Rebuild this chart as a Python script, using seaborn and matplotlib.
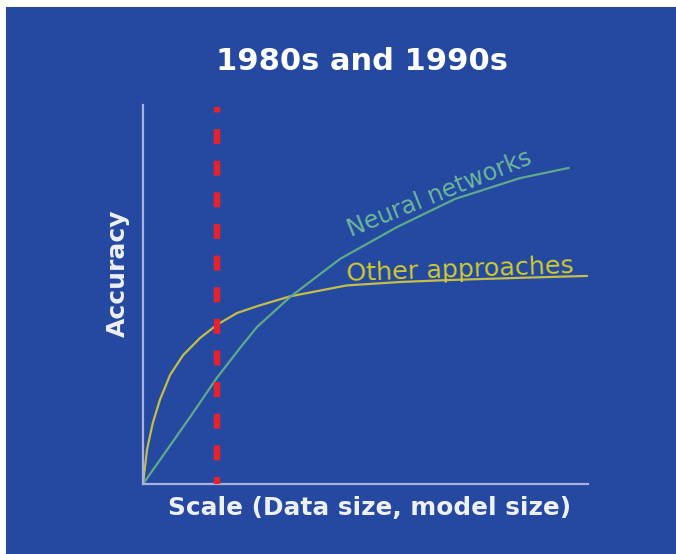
import matplotlib
matplotlib.use("Agg")
import matplotlib.pyplot as plt
import seaborn as sns
import pandas as pd
from matplotlib.patches import Rectangle

# ---- data (axis units: x 0..100, y 0..100) ----
nn_x = [0, 5.4, 10.6, 16.6, 21.8, 25.6, 33.0, 44.3, 57.1, 70.1, 84.7, 95.7]
nn_y = [0, 9.0, 17.7, 28.0, 35.9, 41.4, 49.3, 59.4, 67.8, 75.2, 80.7, 83.4]
oa_x = [0, 0.9, 1.6, 2.2, 3.8, 6.1, 9.0, 12.8, 16.6, 21.1, 25.6, 33.0, 45.8, 57.8, 68.3, 84.7, 99.8]
oa_y = [0, 9.0, 12.9, 16.1, 22.2, 28.8, 34.0, 38.5, 42.0, 45.1, 46.9, 49.5, 52.4, 53.3, 53.8, 54.4, 54.9]
marker_x = 16.6
title = "1980s and 1990s"
xlabel = "Scale (Data size, model size)"
ylabel = "Accuracy"
nn_label = "Neural networks"
oa_label = "Other approaches"

BLUE = "#2548A0"
TEAL = "#5FAA8C"
TEAL_T = "#6CB89A"
YEL = "#C4BE48"
YEL_T = "#D2CC2E"
RED = "#E8222C"
AXC = "#A8B2DE"

sns.set_theme(style="white")
plt.rcParams["font.family"] = ["DejaVu Sans"]

fig = plt.figure(figsize=(6.76, 5.54), dpi=100)
fig.patch.set_facecolor("white")
fig.patches.append(Rectangle((6 / 676, 0), 1, 1 - 7 / 554, transform=fig.transFigure,
                             facecolor=BLUE, edgecolor="none", zorder=-10))

ax = fig.add_axes([143 / 676, (554 - 484) / 554, 445 / 676, 379 / 554])
ax.set_facecolor("none")

df_nn = pd.DataFrame({"x": nn_x, "y": nn_y})
df_oa = pd.DataFrame({"x": oa_x, "y": oa_y})
sns.lineplot(data=df_oa, x="x", y="y", ax=ax, color=YEL, lw=1.6, sort=False)
sns.lineplot(data=df_nn, x="x", y="y", ax=ax, color=TEAL, lw=1.6, sort=False)

ax.axvline(marker_x, ymin=0, ymax=0.995, color=RED, lw=4.6,
           linestyle=(1.25, (2.35, 2.6)), zorder=5)

ax.set_xlim(0, 100)
ax.set_ylim(0, 100)
ax.set_xticks([])
ax.set_yticks([])
for s in ["top", "right"]:
    ax.spines[s].set_visible(False)
for s in ["left", "bottom"]:
    ax.spines[s].set_color(AXC)
    ax.spines[s].set_linewidth(1.6)

ax.set_xlabel(xlabel, color="#EEF0F8", fontsize=17.8, fontweight="bold")
ax.xaxis.set_label_coords((370 - 143) / 445, -(508 - 484) / 379)
ax.xaxis.label.set_va("center")
ax.set_ylabel(ylabel, color="#EEF0F8", fontsize=18, fontweight="bold")
ax.yaxis.set_label_coords(-(143 - 118) / 445, (484 - 273) / 379)
ax.yaxis.label.set_va("center")

fig.text(362 / 676, 1 - 62 / 554, title, color="white", fontsize=22,
         fontweight="bold", ha="center", va="center")

ax.text(45.8, 53.6, oa_label, color=YEL_T, fontsize=18.3, rotation=2,
        ha="left", va="baseline", rotation_mode="anchor")
ax.text(46.8, 65.3, nn_label, color=TEAL_T, fontsize=17.3, rotation=22,
        ha="left", va="baseline", rotation_mode="anchor")

fig.savefig("out.png", dpi=100, facecolor=fig.get_facecolor())
